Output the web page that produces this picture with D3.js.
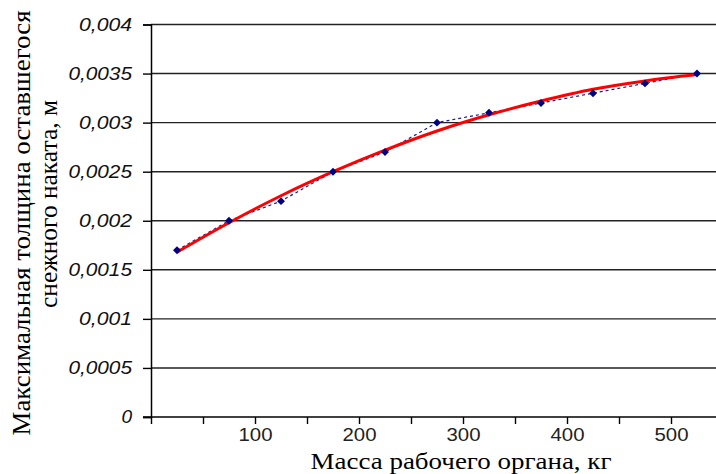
<!DOCTYPE html>
<html>
<head>
<meta charset="utf-8">
<script src="https://cdn.jsdelivr.net/npm/d3@7"></script>
<style>
  body { margin: 0; background: #fff; }
  svg { display: block; }
</style>
</head>
<body>
<div id="app"></div>
<script>
// Data
const masses = [25, 75, 125, 175, 225, 275, 325, 375, 425, 475, 525];
const thickness = [0.0017, 0.002, 0.0022, 0.0025, 0.0027, 0.003, 0.0031, 0.0032, 0.0033, 0.0034, 0.0035];
const trend = [0.00168, 0.00198, 0.002255, 0.0025, 0.00272, 0.002915, 0.00308, 0.00322, 0.00334, 0.003425, 0.00349];

const xTicks = [0, 50, 100, 150, 200, 250, 300, 350, 400, 450, 500, 550];
const xTickLabels = {100: '100', 200: '200', 300: '300', 400: '400', 500: '500'};
const yTicks = [0, 0.0005, 0.001, 0.0015, 0.002, 0.0025, 0.003, 0.0035, 0.004];
const yTickLabels = ['0', '0,0005', '0,001', '0,0015', '0,002', '0,0025', '0,003', '0,0035', '0,004'];

const xTitle = 'Масса рабочего органа, кг';
const yTitle = ['Максимальная толщина оставшегося', 'снежного наката, м'];

const W = 716, H = 474;

const x = d3.scaleLinear().domain([0, 550]).range([151, 723]);
const y = d3.scaleLinear().domain([0, 0.004]).range([417, 24.5]);

const svg = d3.select('#app').append('svg')
  .attr('width', W)
  .attr('height', H);

// horizontal gridlines
svg.append('g')
  .selectAll('line')
  .data(yTicks.slice(1))
  .join('line')
  .attr('x1', x(0))
  .attr('x2', W)
  .attr('y1', d => y(d))
  .attr('y2', d => y(d))
  .attr('stroke', '#222')
  .attr('stroke-width', 1.4);

// y axis
const yAxis = svg.append('g')
  .attr('transform', `translate(${x(0)},0)`)
  .call(d3.axisLeft(y)
    .tickValues(yTicks)
    .tickSize(8)
    .tickPadding(11)
    .tickFormat((d, i) => yTickLabels[i]));
yAxis.select('.domain').attr('stroke', '#000').attr('stroke-width', 1.5);
yAxis.selectAll('.tick line').attr('stroke', '#000').attr('stroke-width', 1.4);
yAxis.selectAll('.tick text')
  .attr('fill', '#111')
  .attr('textLength', (d, i) => yTickLabels[i].length * 10.6)
  .attr('lengthAdjust', 'spacingAndGlyphs')
  .style('font-family', '"Liberation Sans", Arial, sans-serif')
  .style('font-style', 'italic')
  .style('font-size', '18px');

// x axis
const xAxis = svg.append('g')
  .attr('transform', `translate(0,${y(0)})`)
  .call(d3.axisBottom(x)
    .tickValues(xTicks)
    .tickSize(7)
    .tickSizeOuter(0)
    .tickPadding(4)
    .tickFormat(d => xTickLabels[d] || ''));
xAxis.select('.domain')
  .attr('d', `M${x(0) - 8},0H${W}`)
  .attr('stroke', '#000').attr('stroke-width', 1.5);
xAxis.selectAll('.tick line').attr('stroke', '#000').attr('stroke-width', 1.4);
xAxis.selectAll('.tick text')
  .attr('fill', '#222')
  .attr('textLength', 34)
  .attr('lengthAdjust', 'spacingAndGlyphs')
  .style('font-family', '"Liberation Sans", Arial, sans-serif')
  .style('font-size', '18px');

// dashed line through measured points
svg.append('path')
  .datum(masses.map((m, i) => [m, thickness[i]]))
  .attr('fill', 'none')
  .attr('stroke', '#1a1aa0')
  .attr('stroke-width', 1.2)
  .attr('stroke-dasharray', '3,3')
  .attr('d', d3.line().x(d => x(d[0])).y(d => y(d[1])));

// trend line
svg.append('path')
  .datum(masses.map((m, i) => [m, trend[i]]))
  .attr('fill', 'none')
  .attr('stroke', '#ff0000')
  .attr('stroke-width', 3)
  .attr('d', d3.line().curve(d3.curveMonotoneX).x(d => x(d[0])).y(d => y(d[1])));

// diamond markers
svg.append('g')
  .selectAll('path')
  .data(masses.map((m, i) => [m, thickness[i]]))
  .join('path')
  .attr('transform', d => `translate(${x(d[0])},${y(d[1])})`)
  .attr('d', d3.symbol(d3.symbolDiamond2, 40))
  .attr('fill', '#000080');

// axis titles
const serif = '"Liberation Serif", "DejaVu Serif", serif';
svg.append('text')
  .attr('x', 461)
  .attr('y', 469)
  .attr('text-anchor', 'middle')
  .attr('textLength', 301)
  .attr('lengthAdjust', 'spacingAndGlyphs')
  .attr('font-family', serif)
  .attr('font-size', 23)
  .text(xTitle);

const yt = svg.append('g')
  .attr('font-family', serif)
  .attr('font-size', 26);
yt.append('text')
  .attr('transform', 'translate(30,223) rotate(-90)')
  .attr('text-anchor', 'middle')
  .attr('textLength', 425)
  .attr('lengthAdjust', 'spacingAndGlyphs')
  .text(yTitle[0]);
yt.append('text')
  .attr('transform', 'translate(57,204) rotate(-90)')
  .attr('text-anchor', 'middle')
  .attr('textLength', 208)
  .attr('lengthAdjust', 'spacingAndGlyphs')
  .text(yTitle[1]);
</script>
</body>
</html>
